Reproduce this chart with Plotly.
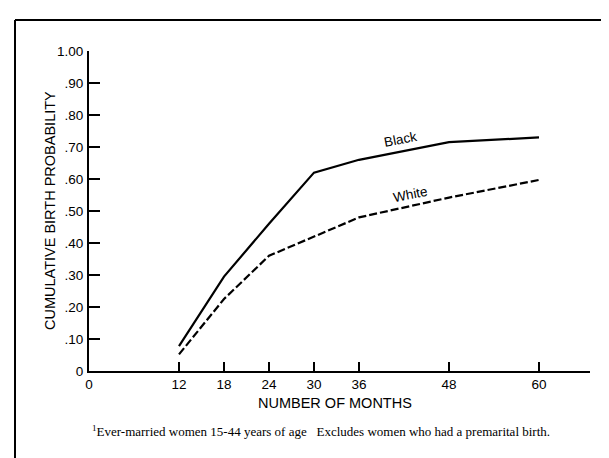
import plotly.graph_objects as go

months = [12, 18, 24, 30, 36, 48, 60]
black = [0.078, 0.295, 0.46, 0.62, 0.66, 0.715, 0.73]
white = [0.052, 0.225, 0.36, 0.42, 0.48, 0.542, 0.597]
x_ticks = [0, 12, 18, 24, 30, 36, 48, 60]
y_ticks = [0, 0.1, 0.2, 0.3, 0.4, 0.5, 0.6, 0.7, 0.8, 0.9, 1.0]
y_labels = ["0", ".10", ".20", ".30", ".40", ".50", ".60", ".70", ".80", ".90", "1.00"]

W, H = 609, 458
L, R, T, B = 81, 27, 43, 95
pw, ph = W - L - R, H - T - B

def px(x):
    return (x - L) / pw

def py(y):
    return (H - B - y) / ph

fig = go.Figure()
fig.add_trace(go.Scatter(x=months, y=black, mode="lines", name="Black",
                         line=dict(color="black", width=2.2)))
fig.add_trace(go.Scatter(x=months, y=white, mode="lines", name="White",
                         line=dict(color="black", width=2.2, dash="8px,3px")))

sans = "Liberation Sans, Arial, sans-serif"
fig.update_layout(
    width=W, height=H,
    margin=dict(l=L, r=R, t=T, b=B),
    paper_bgcolor="white", plot_bgcolor="white",
    showlegend=False,
    font=dict(family=sans, size=13, color="black"),
    xaxis=dict(range=[0, 66.8], tickvals=x_ticks, ticktext=[str(v) for v in x_ticks],
               ticks="inside", ticklen=9, tickwidth=1.5, tickcolor="black",
               showline=True, linecolor="black", linewidth=2, showgrid=False,
               zeroline=False, ticklabelstandoff=0, tickfont=dict(family=sans, size=13.5)),
    yaxis=dict(range=[0, 1.0], tickvals=y_ticks, ticktext=y_labels,
               ticks="inside", ticklen=11, tickwidth=1.5, tickcolor="black",
               showline=True, linecolor="black", linewidth=2, showgrid=False,
               zeroline=False, ticklabelstandoff=1, tickfont=dict(family=sans, size=13.5)),
)

annotations = [
    dict(text="CUMULATIVE BIRTH PROBABILITY", x=px(42), y=py(203), xref="paper", yref="paper",
         textangle=-90, showarrow=False, font=dict(family=sans, size=14.5),
         xanchor="center", yanchor="middle"),
    dict(text="NUMBER OF MONTHS", x=px(327), y=py(395), xref="paper", yref="paper",
         showarrow=False, font=dict(family=sans, size=14.5), xanchor="center", yanchor="middle"),
    dict(text="<sup>1</sup>Ever-married women 15-44 years of age   Excludes women who had a premarital birth.",
         x=px(313), y=py(423), xref="paper", yref="paper", showarrow=False,
         font=dict(family="Liberation Serif, Times New Roman, serif", size=13),
         xanchor="center", yanchor="middle"),
    dict(text="Black", x=41.5, y=0.722, xref="x", yref="y", textangle=-11, showarrow=False,
         font=dict(family=sans, size=13.5), xanchor="center", yanchor="middle"),
    dict(text="White", x=42.8, y=0.553, xref="x", yref="y", textangle=-11, showarrow=False,
         font=dict(family=sans, size=13.5), xanchor="center", yanchor="middle"),
]
fig.update_layout(annotations=annotations)

fig.add_shape(type="line", xref="paper", yref="paper", x0=px(7), x1=px(7), y0=py(12), y1=py(458),
              line=dict(color="black", width=2))
fig.add_shape(type="line", xref="paper", yref="paper", x0=px(7), x1=px(609), y0=py(12), y1=py(12),
              line=dict(color="black", width=2))

fig.write_html("out.html")
